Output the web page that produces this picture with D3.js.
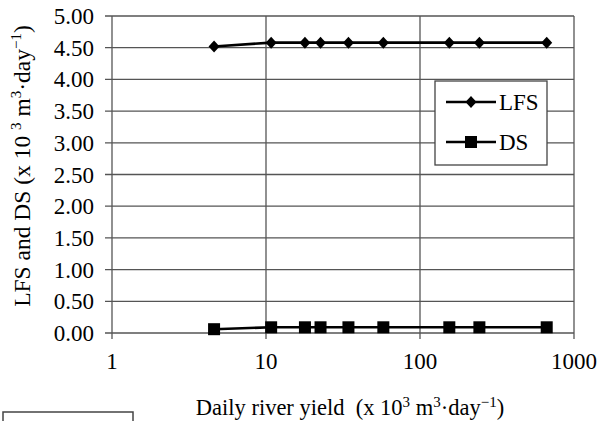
<!DOCTYPE html>
<html lang="en">
<head>
<meta charset="utf-8">
<title>LFS and DS vs daily river yield</title>
<script src="https://cdn.jsdelivr.net/npm/d3@7"></script>
<style>
  body { margin: 0; background: #fff; }
  text { font-family: "Liberation Serif", "Times New Roman", serif; fill: #000; }
</style>
</head>
<body>
<script>
// daily river yield (x 10^3 m3/day)
var yieldVals = [4.6, 10.8, 17.9, 22.6, 34.3, 57.8, 155, 243, 665];
var lfsVals = [4.52, 4.58, 4.58, 4.58, 4.58, 4.58, 4.58, 4.58, 4.58];
var dsVals = [0.06, 0.09, 0.09, 0.09, 0.09, 0.09, 0.09, 0.09, 0.09];
var xTicks = [1, 10, 100, 1000];
var yTicks = [0, 0.5, 1, 1.5, 2, 2.5, 3, 3.5, 4, 4.5, 5];

var w = 600, h = 421;
// plot box (note: "top" is reserved on window, so use padTop)
var padLeft = 112, padRight = 574, padTop = 16, padBottom = 333;
var grid = "#555";

var svg = d3.select("body").append("svg")
  .attr("width", w).attr("height", h);

var xScale = d3.scaleLog().domain([1, 1000]).range([padLeft, padRight]);
var yScale = d3.scaleLinear().domain([0, 5]).range([padBottom, padTop]);

// horizontal gridlines + left ticks
svg.selectAll("line.hg").data(yTicks).enter().append("line")
  .attr("x1", padLeft - 7).attr("x2", padRight)
  .attr("y1", function(d) { return yScale(d); })
  .attr("y2", function(d) { return yScale(d); })
  .attr("stroke", grid).attr("stroke-width", 1.3);

// vertical gridlines + bottom ticks
svg.selectAll("line.vg").data(xTicks).enter().append("line")
  .attr("x1", function(d) { return xScale(d); })
  .attr("x2", function(d) { return xScale(d); })
  .attr("y1", padTop).attr("y2", padBottom + 6)
  .attr("stroke", grid).attr("stroke-width", 1.3);

// tick labels
svg.selectAll("text.yt").data(yTicks).enter().append("text")
  .attr("x", padLeft - 18)
  .attr("y", function(d) { return yScale(d) + 8; })
  .attr("text-anchor", "end")
  .attr("font-size", "23px")
  .text(d3.format(".2f"));

svg.selectAll("text.xt").data(xTicks).enter().append("text")
  .attr("x", function(d) { return xScale(d); })
  .attr("y", 369)
  .attr("text-anchor", "middle")
  .attr("font-size", "23px")
  .text(function(d) { return d; });

// series
var line = d3.line()
  .x(function(d) { return xScale(d[0]); })
  .y(function(d) { return yScale(d[1]); });

var lfs = yieldVals.map(function(v, i) { return [v, lfsVals[i]]; });
var ds = yieldVals.map(function(v, i) { return [v, dsVals[i]]; });

svg.append("path").datum(lfs).attr("d", line)
  .attr("fill", "none").attr("stroke", "#000").attr("stroke-width", 2.6);
svg.append("path").datum(ds).attr("d", line)
  .attr("fill", "none").attr("stroke", "#000").attr("stroke-width", 2.6);

var diamond = "M0,-6L5.5,0L0,6L-5.5,0Z";

svg.selectAll("path.lfsm").data(lfs).enter().append("path")
  .attr("d", diamond)
  .attr("transform", function(d) { return "translate(" + xScale(d[0]) + "," + yScale(d[1]) + ")"; })
  .attr("fill", "#000");

svg.selectAll("rect.dsm").data(ds).enter().append("rect")
  .attr("x", function(d) { return xScale(d[0]) - 6; })
  .attr("y", function(d) { return yScale(d[1]) - 6; })
  .attr("width", 12).attr("height", 12)
  .attr("fill", "#000");

// legend
var lg = svg.append("g");
lg.append("rect").attr("x", 435).attr("y", 81).attr("width", 112).attr("height", 84)
  .attr("fill", "#fff").attr("stroke", "#444").attr("stroke-width", 1.3);
lg.append("line").attr("x1", 446).attr("x2", 496).attr("y1", 102).attr("y2", 102)
  .attr("stroke", "#000").attr("stroke-width", 2.6);
lg.append("path").attr("d", diamond).attr("transform", "translate(471,102)").attr("fill", "#000");
lg.append("text").attr("x", 499).attr("y", 110).attr("font-size", "23px").text("LFS");
lg.append("line").attr("x1", 446).attr("x2", 496).attr("y1", 142).attr("y2", 142)
  .attr("stroke", "#000").attr("stroke-width", 2.6);
lg.append("rect").attr("x", 465).attr("y", 136).attr("width", 12).attr("height", 12).attr("fill", "#000");
lg.append("text").attr("x", 499).attr("y", 150).attr("font-size", "23px").text("DS");

// axis titles
var xt = svg.append("text").attr("x", 350).attr("y", 415)
  .attr("text-anchor", "middle").attr("font-size", "22.5px")
  .attr("xml:space", "preserve");
xt.append("tspan").text("Daily river yield  (x 10");
xt.append("tspan").attr("font-size", "15px").attr("dy", -8).text("3");
xt.append("tspan").attr("dy", 8).text(" m");
xt.append("tspan").attr("font-size", "15px").attr("dy", -8).text("3");
xt.append("tspan").attr("dy", 8).text("·day");
xt.append("tspan").attr("font-size", "15px").attr("dy", -8).text("−1");
xt.append("tspan").attr("dy", 8).text(")");

var yt = svg.append("text")
  .attr("transform", "translate(30,166) rotate(-90)")
  .attr("text-anchor", "middle").attr("font-size", "23.5px");
yt.append("tspan").text("LFS and DS (x 10 ");
yt.append("tspan").attr("font-size", "15px").attr("dy", -9).text("3");
yt.append("tspan").attr("dy", 9).text(" m");
yt.append("tspan").attr("font-size", "15px").attr("dy", -9).text("3");
yt.append("tspan").attr("dy", 9).text("·day");
yt.append("tspan").attr("font-size", "15px").attr("dy", -9).text("−1");
yt.append("tspan").attr("dy", 9).text(")");

// stray box at the bottom-left edge of the original figure
svg.append("rect").attr("x", 3).attr("y", 412).attr("width", 130).attr("height", 20)
  .attr("fill", "none").attr("stroke", "#444").attr("stroke-width", 1.5);
</script>
</body>
</html>
